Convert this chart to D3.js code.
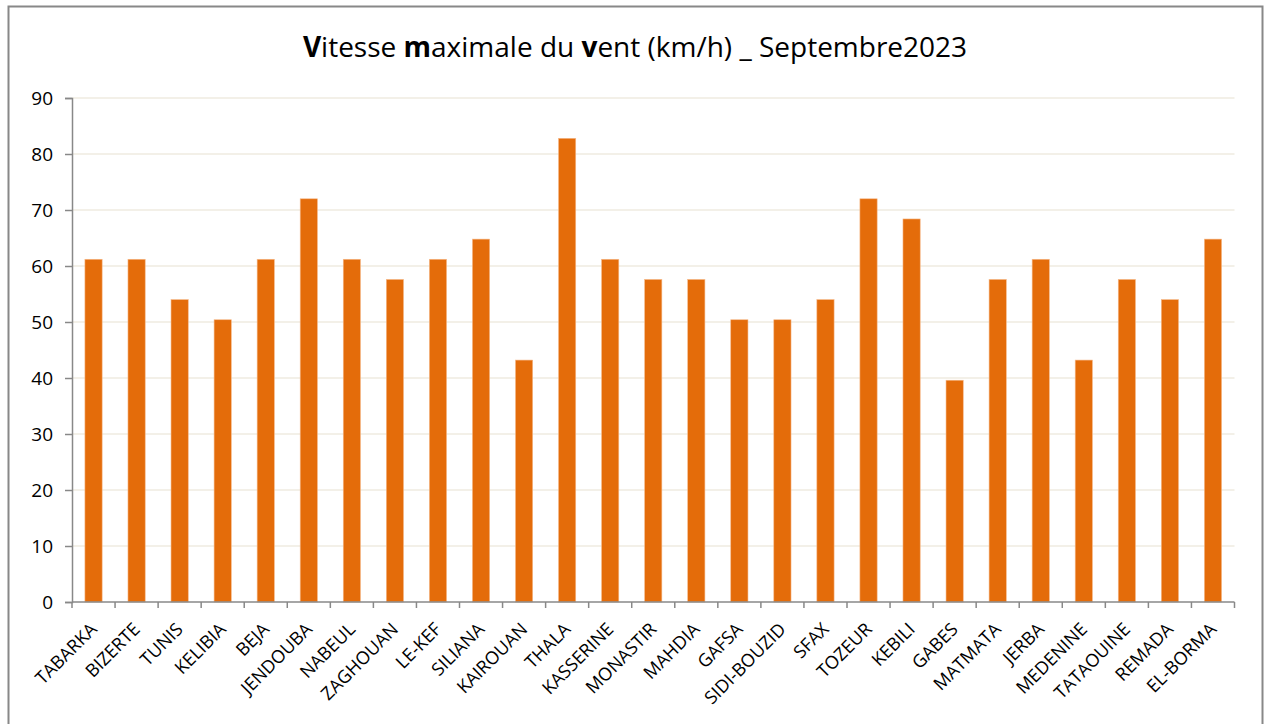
<!DOCTYPE html>
<html>
<head>
<meta charset="utf-8">
<script src="https://cdn.jsdelivr.net/npm/d3@7"></script>
<style>
  body { margin: 0; background: #fff; }
  svg { display: block; font-family: "Open Sans", sans-serif; }
</style>
</head>
<body>
<svg width="1265" height="724"></svg>
<script>
var stations = ["TABARKA", "BIZERTE", "TUNIS", "KELIBIA", "BEJA", "JENDOUBA", "NABEUL",
  "ZAGHOUAN", "LE-KEF", "SILIANA", "KAIROUAN", "THALA", "KASSERINE", "MONASTIR", "MAHDIA",
  "GAFSA", "SIDI-BOUZID", "SFAX", "TOZEUR", "KEBILI", "GABES", "MATMATA", "JERBA",
  "MEDENINE", "TATAOUINE", "REMADA", "EL-BORMA"];
var vmax = [61.2, 61.2, 54, 50.4, 61.2, 72, 61.2, 57.6, 61.2, 64.8, 43.2, 82.8, 61.2, 57.6,
  57.6, 50.4, 50.4, 54, 72, 68.4, 39.6, 57.6, 61.2, 43.2, 57.6, 54, 64.8];
var yTicks = [0, 10, 20, 30, 40, 50, 60, 70, 80, 90];

var svg = d3.select("svg"),
    margin = {top: 98, right: 30, bottom: 122, left: 72},
    width = 1234.5 - margin.left,
    height = 602 - margin.top;

// chart frame
svg.append("rect")
    .attr("x", 8.5).attr("y", 6.5)
    .attr("width", 1254).attr("height", 730)
    .attr("fill", "none")
    .attr("stroke", "#888").attr("stroke-width", 2);

var title = svg.append("text")
    .attr("x", 635).attr("y", 57)
    .attr("text-anchor", "middle")
    .style("font-size", "28px")
    .style("fill", "#000");
[["V", true], ["itesse ", false], ["m", true], ["aximale du ", false], ["v", true],
 ["ent (km/h) _ Septembre2023", false]].forEach(function(p) {
  title.append("tspan").style("font-weight", p[1] ? "bold" : "normal").text(p[0]);
});

var x = d3.scaleBand().domain(stations).range([0, width]).paddingInner(0.6).paddingOuter(0.3),
    y = d3.scaleLinear().domain([0, 90]).range([height, 0]);

var g = svg.append("g")
    .attr("transform", "translate(" + margin.left + "," + margin.top + ")");

// gridlines
g.selectAll(".grid")
  .data(yTicks.filter(function(d) { return d > 0; }))
  .enter().append("line")
    .attr("class", "grid")
    .attr("x1", 0).attr("x2", width)
    .attr("y1", function(d) { return y(d); })
    .attr("y2", function(d) { return y(d); })
    .attr("stroke", "#efebe0").attr("stroke-width", 1.3);

g.selectAll(".bar")
  .data(vmax)
  .enter().append("rect")
    .attr("class", "bar")
    .attr("x", function(d, i) { return x(stations[i]); })
    .attr("y", function(d) { return y(d); })
    .attr("width", x.bandwidth())
    .attr("height", function(d) { return height - y(d); })
    .attr("fill", "#e46c0a")
    .attr("stroke", "#f6b98a").attr("stroke-width", 0.6);

// y axis
var yAxis = g.append("g")
    .call(d3.axisLeft(y).tickValues(yTicks).tickSize(7).tickPadding(12));
yAxis.selectAll("text").style("font-size", "19px").style("fill", "#000")
    .style("font-family", "'Open Sans', sans-serif");
yAxis.selectAll("line, path").attr("stroke", "#888").attr("stroke-width", 1.5);

// x axis: ticks on category boundaries
var bounds = d3.range(stations.length + 1).map(function(i) { return i * width / stations.length; });
g.append("line")
    .attr("x1", 0).attr("x2", width)
    .attr("y1", height).attr("y2", height)
    .attr("stroke", "#888").attr("stroke-width", 1.5);
g.selectAll(".xtick")
  .data(bounds)
  .enter().append("line")
    .attr("class", "xtick")
    .attr("x1", function(d) { return d; }).attr("x2", function(d) { return d; })
    .attr("y1", height).attr("y2", height + 6)
    .attr("stroke", "#888").attr("stroke-width", 1.5);

g.selectAll(".xlabel")
  .data(stations)
  .enter().append("text")
    .attr("class", "xlabel")
    .attr("transform", function(d) {
      return "translate(" + (x(d) + x.bandwidth() / 2) + "," + (height + 24) + ") rotate(-45)";
    })
    .attr("text-anchor", "end")
    .attr("dy", "0.35em")
    .style("font-size", "18px")
    .style("fill", "#000")
    .text(function(d) { return d; });
</script>
</body>
</html>
